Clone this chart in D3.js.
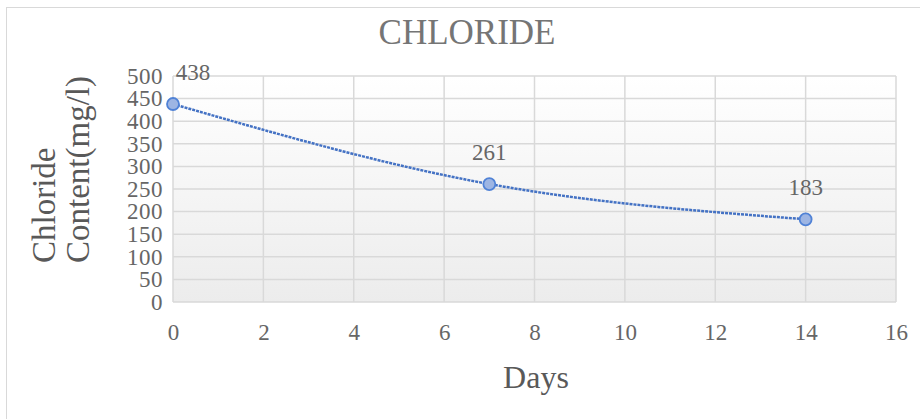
<!DOCTYPE html>
<html>
<head>
<meta charset="utf-8">
<script src="https://cdn.jsdelivr.net/npm/d3@7"></script>
<style>
  body { margin: 0; background: #fff; }
  text { font-family: "Liberation Serif", "Times New Roman", serif; }
</style>
</head>
<body>
<script>
// Chart size
var width = 920;
var height = 419;

// Data
var days = [0, 7, 14];
var chloride = [438, 261, 183];
var xTicks = [0, 2, 4, 6, 8, 10, 12, 14, 16];
var yTicks = [0, 50, 100, 150, 200, 250, 300, 350, 400, 450, 500];

// Plot area
var plot = {left: 173, right: 896, top: 76, bottom: 302};

var x = d3.scaleLinear().domain([0, 16]).range([plot.left, plot.right]);
var y = d3.scaleLinear().domain([0, 500]).range([plot.bottom, plot.top]);

var svg = d3.select("body")
            .append("svg")
            .attr("width", width)
            .attr("height", height);

// Gradient for plot background
var grad = svg.append("defs").append("linearGradient")
    .attr("id", "bg")
    .attr("x1", 0).attr("y1", 0).attr("x2", 0).attr("y2", 1);
grad.append("stop").attr("offset", "0%").attr("stop-color", "#ffffff");
grad.append("stop").attr("offset", "100%").attr("stop-color", "#ececec");

// Outer chart border
svg.append("rect")
    .attr("x", 6.5).attr("y", 7.5)
    .attr("width", 930).attr("height", 430)
    .attr("fill", "#fff")
    .attr("stroke", "#d9d9d9");

svg.append("rect")
    .attr("x", plot.left).attr("y", plot.top)
    .attr("width", plot.right - plot.left)
    .attr("height", plot.bottom - plot.top)
    .attr("fill", "url(#bg)");

// Gridlines
svg.append("g")
    .selectAll("line.h")
    .data(yTicks)
    .enter()
    .append("line")
    .attr("x1", plot.left).attr("x2", plot.right)
    .attr("y1", function(d) { return y(d); })
    .attr("y2", function(d) { return y(d); })
    .attr("stroke", "#d9d9d9")
    .attr("stroke-width", 1.5);

svg.append("g")
    .selectAll("line.v")
    .data(xTicks)
    .enter()
    .append("line")
    .attr("y1", plot.top).attr("y2", plot.bottom)
    .attr("x1", function(d) { return x(d); })
    .attr("x2", function(d) { return x(d); })
    .attr("stroke", "#d9d9d9")
    .attr("stroke-width", 1.5);

// Y axis
var yAxis = svg.append("g")
    .attr("transform", "translate(" + plot.left + ",0)")
    .call(d3.axisLeft(y).tickValues(yTicks).tickSize(0).tickPadding(10));
yAxis.select(".domain").remove();
yAxis.selectAll("text")
    .style("font-family", "Liberation Serif, serif")
    .style("font-size", "23px")
    .style("letter-spacing", "0.5px")
    .attr("fill", "#666666");

// X axis
var xAxis = svg.append("g")
    .attr("transform", "translate(0," + plot.bottom + ")")
    .call(d3.axisBottom(x).tickValues(xTicks).tickSize(0).tickPadding(22));
xAxis.select(".domain").remove();
xAxis.selectAll("text")
    .style("font-family", "Liberation Serif, serif")
    .style("font-size", "23px")
    .attr("fill", "#666666");

// Title
svg.append("text")
    .attr("x", 467).attr("y", 44)
    .attr("text-anchor", "middle")
    .attr("font-size", 35)
    .attr("fill", "#757575")
    .text("CHLORIDE");

// Axis titles
svg.append("text")
    .attr("x", 536).attr("y", 388)
    .attr("text-anchor", "middle")
    .attr("font-size", 32)
    .attr("fill", "#595959")
    .text("Days");

var yTitle = svg.append("text")
    .attr("transform", "translate(55,263) rotate(-90)")
    .attr("font-size", 33)
    .attr("fill", "#595959");
yTitle.append("tspan").attr("x", 0).attr("y", 0).text("Chloride");
yTitle.append("tspan").attr("x", 0).attr("y", 34).text("Content(mg/l)");

// Line (dotted smooth curve through points)
var line = d3.line()
    .x(function(d, i) { return x(days[i]); })
    .y(function(d) { return y(d); })
    .curve(d3.curveNatural);

svg.append("path")
    .datum(chloride)
    .attr("d", line)
    .attr("fill", "none")
    .attr("stroke", "#4472c4")
    .attr("stroke-width", 2.5)
    .attr("stroke-dasharray", "3,1");

// Markers
svg.selectAll("circle.pt")
    .data(chloride)
    .enter()
    .append("circle")
    .attr("cx", function(d, i) { return x(days[i]); })
    .attr("cy", function(d) { return y(d); })
    .attr("r", 6)
    .attr("fill", "#9db5e3")
    .attr("stroke", "#5082d6")
    .attr("stroke-width", 1.8);

// Data labels
svg.selectAll("text.lbl")
    .data(chloride)
    .enter()
    .append("text")
    .attr("x", function(d, i) { return x(days[i]) + (i == 0 ? 20 : 0); })
    .attr("y", function(d) { return y(d) - 24; })
    .attr("text-anchor", "middle")
    .attr("font-size", 23)
    .attr("fill", "#666666")
    .text(function(d) { return d; });
</script>
</body>
</html>
